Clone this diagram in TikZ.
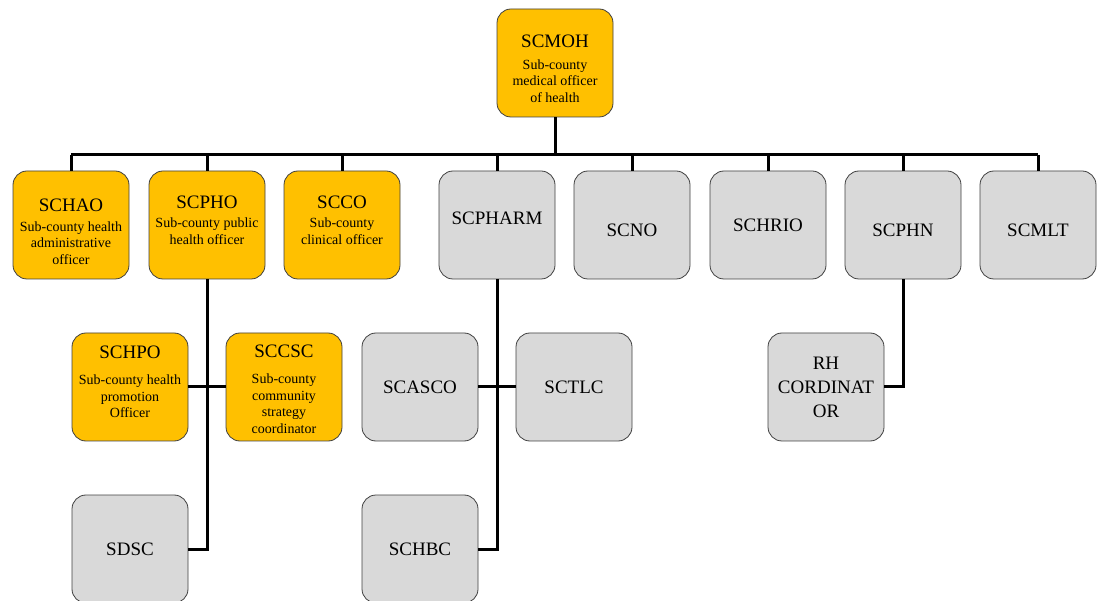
\documentclass[tikz,border=0pt]{standalone}
\usepackage{fontspec}
\setmainfont{Liberation Serif}
\definecolor{boxgold}{HTML}{FFC000}
\definecolor{boxgrey}{HTML}{D9D9D9}
\definecolor{boxedge}{HTML}{404040}
\newcommand{\ttl}[1]{{\fontsize{19}{22}\selectfont #1}}
\tikzset{
  orgbox/.style={draw=boxedge, line width=0.8pt, rounded corners=14pt,
    minimum width=116pt, minimum height=108pt, inner sep=0pt},
  goldbox/.style={orgbox, fill=boxgold},
  greybox/.style={orgbox, fill=boxgrey},
  % text of a box, nudged vertically by the first argument
  goldtext/.style 2 args={label={[align=center, inner sep=0pt,
      font=\fontsize{14}{16.5}\selectfont, yshift=#1]center:#2}},
  greytext/.style 2 args={label={[align=center, inner sep=0pt,
      font=\fontsize{19}{24}\selectfont, yshift=#1]center:#2}},
  orglink/.style={line width=3pt, draw=black}}
\begin{document}
\begin{tikzpicture}[x=1pt,y=-1pt]
\useasboundingbox (0,0) rectangle (1098,601);
\begin{scope}
\clip (0,0) rectangle (1098,601);

% head of the sub-county
\node[goldbox, goldtext={-6pt}{\ttl{SCMOH}\\[5pt]Sub-county\\ medical officer\\ of health}] (scmoh) at (555,63) {};

% first tier
\node[goldbox, goldtext={-7pt}{\ttl{SCHAO}\\[3pt]Sub-county health\\ administrative\\ officer}] (schao) at (71,225) {};
\node[goldbox, goldtext={5pt}{\ttl{SCPHO}\\[3pt]Sub-county public\\ health officer}] (scpho) at (207,225) {};
\node[goldbox, goldtext={5pt}{\ttl{SCCO}\\[3pt]Sub-county\\ clinical officer}] (scco) at (342,225) {};
\node[greybox, greytext={7pt}{SCPHARM}] (scpharm) at (497,225) {};
\node[greybox, greytext={-5pt}{SCNO}]   (scno)   at (632,225) {};
\node[greybox, greytext={0pt}{SCHRIO}]  (schrio) at (768,225) {};
\node[greybox, greytext={-5pt}{SCPHN}]  (scphn)  at (903,225) {};
\node[greybox, greytext={-5pt}{SCMLT}]  (scmlt)  at (1038,225) {};

% second tier
\node[goldbox, goldtext={5pt}{\ttl{SCHPO}\\[10pt]Sub-county health\\ promotion\\ Officer}] (schpo) at (130,387) {};
\node[goldbox, goldtext={-2pt}{\ttl{SCCSC}\\[10pt]Sub-county\\ community\\ strategy\\ coordinator}] (sccsc) at (284,387) {};
\node[greybox, greytext={0pt}{SCASCO}] (scasco) at (420,387) {};
\node[greybox, greytext={0pt}{SCTLC}]  (sctlc)  at (574,387) {};
\node[greybox, greytext={0pt}{RH\\ CORDINAT\\ OR}] (rh) at (826,387) {};

% third tier
\node[greybox, greytext={0pt}{SDSC}]  (sdsc)  at (130,549) {};
\node[greybox, greytext={0pt}{SCHBC}] (schbc) at (420,549) {};

% connectors
\coordinate (bus) at (555,155);
\draw[orglink] (scmoh.south) -- (bus);
\draw[orglink] (bus -| schao.north) -- (bus -| scmlt.north);
\foreach \n in {schao,scpho,scco,scpharm,scno,schrio,scphn,scmlt}
  \draw[orglink] (bus -| \n.north) -- (\n.north);

\draw[orglink] (scpho.south) -- (scpho.south |- sdsc.east) -- (sdsc.east);
\draw[orglink] (schpo.east) -- (schpo.east -| sccsc.west);

\draw[orglink] (scpharm.south) -- (scpharm.south |- schbc.east) -- (schbc.east);
\draw[orglink] (scasco.east) -- (sctlc.west);

\draw[orglink] (scphn.south) -- (scphn.south |- rh.east) -- (rh.east);
\end{scope}
\end{tikzpicture}
\end{document}
